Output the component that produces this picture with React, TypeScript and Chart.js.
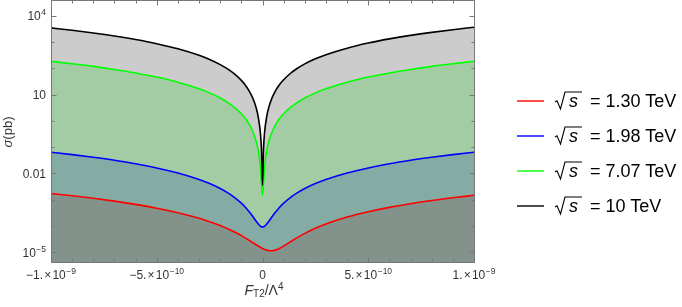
import React, { useEffect, useRef } from "react";
import { Chart, registerables } from "chart.js";

Chart.register(...registerables);

// ---- data ----
const F_T2 = [
  -1.0e-9, -0.9e-9, -0.8e-9, -0.7e-9, -0.6e-9, -0.5e-9, -0.4e-9, -0.3e-9, -0.25e-9, -0.2e-9,
  -0.16e-9, -0.13e-9, -0.1e-9, -0.08e-9, -0.06e-9, -0.045e-9, -0.03e-9, -0.02e-9, -0.01e-9, -0.005e-9,
  0,
  0.005e-9, 0.01e-9, 0.02e-9, 0.03e-9, 0.045e-9, 0.06e-9, 0.08e-9, 0.1e-9, 0.13e-9, 0.16e-9,
  0.2e-9, 0.25e-9, 0.3e-9, 0.4e-9, 0.5e-9, 0.6e-9, 0.7e-9, 0.8e-9, 0.9e-9, 1.0e-9,
];

const SIGMA_130 = [
  1.71e-3, 1.40e-3, 1.12e-3, 8.71e-4, 6.54e-4, 4.69e-4, 3.15e-4, 1.93e-4, 1.43e-4, 1.02e-4,
  7.40e-5, 5.66e-5, 4.20e-5, 3.38e-5, 2.69e-5, 2.25e-5, 1.89e-5, 1.69e-5, 1.51e-5, 1.44e-5,
  1.37e-5,
  1.31e-5, 1.26e-5, 1.18e-5, 1.14e-5, 1.12e-5, 1.18e-5, 1.37e-5, 1.69e-5, 2.39e-5, 3.38e-5,
  5.14e-5, 8.04e-5, 1.17e-4, 2.15e-4, 3.43e-4, 5.04e-4, 6.95e-4, 9.18e-4, 1.17e-3, 1.46e-3,
];

const SIGMA_198 = [
  6.39e-2, 5.18e-2, 4.09e-2, 3.14e-2, 2.31e-2, 1.60e-2, 1.03e-2, 5.83e-3, 4.08e-3, 2.64e-3,
  1.72e-3, 1.17e-3, 7.29e-4, 4.99e-4, 3.21e-4, 2.20e-4, 1.48e-4, 1.17e-4, 9.74e-5, 9.26e-5,
  9.10e-5,
  9.26e-5, 9.74e-5, 1.17e-4, 1.48e-4, 2.20e-4, 3.21e-4, 4.99e-4, 7.29e-4, 1.17e-3, 1.72e-3,
  2.64e-3, 4.08e-3, 5.83e-3, 1.03e-2, 1.60e-2, 2.31e-2, 3.14e-2, 4.09e-2, 5.18e-2, 6.39e-2,
];

const SIGMA_707 = [
  187, 151, 120, 91.6, 67.3, 46.8, 29.9, 16.8, 11.7, 7.48,
  4.79, 3.16, 1.87, 1.20, 0.673, 0.379, 0.168, 0.0748, 0.0187, 0.00468,
  0.00148,
  0.00468, 0.0187, 0.0748, 0.168, 0.379, 0.673, 1.20, 1.87, 3.16, 4.79,
  7.48, 11.7, 16.8, 29.9, 46.8, 67.3, 91.6, 120, 151, 187,
];

const SIGMA_10 = [
  3510, 2843, 2246, 1720, 1264, 878, 562, 316, 219, 140,
  89.9, 59.3, 35.1, 22.5, 12.6, 7.11, 3.16, 1.40, 0.351, 0.0878,
  0.0035,
  0.0929, 0.372, 1.49, 3.34, 7.52, 13.4, 23.8, 37.2, 62.8, 95.1,
  149, 232, 334, 594, 929, 1337, 1820, 2378, 3009, 3715,
];

const SERIES_LABELS = ["1.30 TeV", "1.98 TeV", "7.07 TeV", "10 TeV"];
const SERIES_VALUES = [SIGMA_130, SIGMA_198, SIGMA_707, SIGMA_10];
const SERIES_COLORS = ["#ff0000", "#0000ff", "#00ff00", "#000000"];
const SERIES_FILLS = [
  "rgba(255,0,0,0.2)",
  "rgba(0,0,255,0.2)",
  "rgba(0,255,0,0.2)",
  "rgba(0,0,0,0.2)",
];

const X_MIN = -1e-9;
const X_MAX = 1e-9;
const Y_MIN = 4.16e-6;
const Y_MAX = 3.73e4;

const X_MAJOR = [-1e-9, -5e-10, 0, 5e-10, 1e-9];
const X_MAJOR_LABELS = ["−1.×10^−9", "−5.×10^−10", "0", "5.×10^−10", "1.×10^−9"];
const X_MINOR = [
  -9e-10, -8e-10, -7e-10, -6e-10, -4e-10, -3e-10, -2e-10, -1e-10,
  1e-10, 2e-10, 3e-10, 4e-10, 6e-10, 7e-10, 8e-10, 9e-10,
];
const Y_MAJOR = [1e-5, 1e-2, 10, 1e4];
const Y_MAJOR_LABELS = ["10^−5", "0.01", "10", "10^4"];
const Y_MINOR = [1e-4, 1e-3, 0.1, 1, 100, 1000];

const FONT = "'Liberation Sans', Arial, Helvetica, sans-serif";

function drawTickLabel(
  ctx: CanvasRenderingContext2D,
  text: string,
  x: number,
  baseline: number,
  align: "center" | "right"
) {
  const [base, sup] = text.split("^");
  const baseFont = `12px ${FONT}`;
  const supFont = `8.5px ${FONT}`;
  const segs: { t: string; font: string; dy: number; gap: number }[] = [];
  if (base.includes("×")) {
    const [a, b] = base.split("×");
    segs.push({ t: a, font: baseFont, dy: 0, gap: 0 });
    segs.push({ t: "×", font: baseFont, dy: 0, gap: 1.2 });
    segs.push({ t: b, font: baseFont, dy: 0, gap: 1.2 });
  } else {
    segs.push({ t: base, font: baseFont, dy: 0, gap: 0 });
  }
  if (sup) segs.push({ t: sup, font: supFont, dy: -5, gap: 0.5 });
  let total = 0;
  const widths = segs.map((s) => {
    ctx.font = s.font;
    const w = ctx.measureText(s.t).width;
    total += w + s.gap;
    return w;
  });
  let cx = align === "center" ? x - total / 2 : x - total;
  ctx.textAlign = "left";
  ctx.textBaseline = "alphabetic";
  segs.forEach((s, i) => {
    cx += s.gap;
    ctx.font = s.font;
    ctx.fillText(s.t, cx, baseline + s.dy);
    cx += widths[i];
  });
}

const framePlugin = {
  id: "mmaFrame",
  afterDatasetsDraw(chart: any) {
    const { ctx, chartArea: a, scales } = chart;
    const xs = scales.x;
    const ys = scales.y;
    const L = a.left + 0.5;
    const R = a.right + 0.5;
    const T = a.top - 0.5;
    const B = a.bottom + 0.5;
    ctx.save();
    ctx.strokeStyle = "#777777";
    ctx.lineWidth = 1;
    ctx.beginPath();
    ctx.moveTo(L, T);
    ctx.lineTo(R, T);
    ctx.lineTo(R, B);
    ctx.lineTo(L, B);
    ctx.closePath();
    ctx.stroke();

    ctx.beginPath();
    const xTick = (v: number, len: number) => {
      const px = Math.round(xs.getPixelForValue(v)) + 0.5;
      ctx.moveTo(px, B);
      ctx.lineTo(px, B - len);
      ctx.moveTo(px, T);
      ctx.lineTo(px, T + len);
    };
    const yTick = (v: number, len: number) => {
      const py = Math.round(ys.getPixelForValue(v)) + 0.5;
      ctx.moveTo(L, py);
      ctx.lineTo(L + len, py);
      ctx.moveTo(R, py);
      ctx.lineTo(R - len, py);
    };
    X_MAJOR.forEach((v) => xTick(v, 5));
    X_MINOR.forEach((v) => xTick(v, 3));
    Y_MAJOR.forEach((v) => yTick(v, 5));
    Y_MINOR.forEach((v) => yTick(v, 3));
    ctx.stroke();

    ctx.fillStyle = "#333333";
    X_MAJOR.forEach((v, i) => {
      const px = xs.getPixelForValue(v);
      drawTickLabel(ctx, X_MAJOR_LABELS[i], px, 279, "center");
    });
    Y_MAJOR.forEach((v, i) => {
      const py = ys.getPixelForValue(v);
      drawTickLabel(ctx, Y_MAJOR_LABELS[i], 46, py + 4.5, "right");
    });
    ctx.restore();
  },
};

const LEGEND_Y = [101, 136, 171, 206];

export default function App() {
  const ref = useRef<HTMLCanvasElement>(null);

  useEffect(() => {
    if (!ref.current) return;
    const order = [3, 2, 1, 0];
    const chart = new Chart(ref.current, {
      type: "line",
      data: {
        datasets: SERIES_VALUES.map((vals, i) => ({
          label: SERIES_LABELS[i],
          data: F_T2.map((x, j) => ({ x, y: vals[j] })),
          borderColor: SERIES_COLORS[i],
          backgroundColor: SERIES_FILLS[i],
          borderWidth: 1.6,
          pointRadius: 0,
          fill: "start",
          cubicInterpolationMode: "monotone",
          order: order[i],
        })),
      },
      options: {
        responsive: false,
        animation: false,
        devicePixelRatio: 1,
        layout: { padding: { left: 51, right: 208, top: 1, bottom: 45 } },
        scales: {
          x: { type: "linear", min: X_MIN, max: X_MAX, display: false },
          y: { type: "logarithmic", min: Y_MIN, max: Y_MAX, display: false },
        },
        plugins: {
          legend: { display: false },
          tooltip: { enabled: false },
          filler: { drawTime: "beforeDatasetsDraw" },
        } as any,
        events: [],
      },
      plugins: [framePlugin],
    } as any);
    return () => chart.destroy();
  }, []);

  return (
    <div
      style={{
        position: "absolute",
        left: 0,
        top: 0,
        width: 682,
        height: 307,
        background: "#ffffff",
        fontFamily: FONT,
        color: "#222",
      }}
    >
      <canvas
        ref={ref}
        width={682}
        height={307}
        style={{ position: "absolute", left: 0, top: 0, width: 682, height: 307 }}
      />
      {/* y axis title */}
      <div
        style={{
          position: "absolute",
          left: -12,
          top: 125,
          width: 40,
          height: 14,
          fontSize: 13,
          lineHeight: "14px",
          fontWeight: 400,
          textAlign: "center",
          whiteSpace: "nowrap",
          color: "#333",
          transform: "rotate(-90deg)",
        }}
      >
        <i>σ</i>(pb)
      </div>
      {/* x axis title */}
      <div
        style={{
          position: "absolute",
          left: 224,
          top: 283,
          width: 80,
          fontSize: 14,
          lineHeight: "14px",
          textAlign: "center",
          whiteSpace: "nowrap",
          color: "#333",
        }}
      >
        <i>F</i>
        <span style={{ fontSize: 10, position: "relative", top: 2 }}>T2</span>/Λ
        <span style={{ fontSize: 10, position: "relative", top: -5 }}>4</span>
      </div>
      {/* legend graphics */}
      <svg
        width={682}
        height={307}
        style={{ position: "absolute", left: 0, top: 0, pointerEvents: "none" }}
      >
        {LEGEND_Y.map((y, i) => (
          <g key={i}>
            <line x1={517} x2={544} y1={y} y2={y} stroke={SERIES_COLORS[i]} strokeWidth={1.4} />
            <path
              d={`M555,${y + 1} L557,${y - 0.3} L560.5,${y + 8} L565,${y - 9} L582,${y - 9}`}
              fill="none"
              stroke="#000"
              strokeWidth={1.1}
              strokeLinejoin="miter"
            />
          </g>
        ))}
      </svg>
      {LEGEND_Y.map((y, i) => (
        <React.Fragment key={i}>
          <span
            style={{
              position: "absolute",
              left: 569,
              top: Math.round(y - 9.25),
              fontSize: 18,
              lineHeight: "18px",
              fontStyle: "italic",
              color: "#000",
            }}
          >
            s
          </span>
          <span
            style={{
              position: "absolute",
              left: 590,
              top: Math.round(y - 9.25),
              fontSize: 18,
              lineHeight: "18px",
              whiteSpace: "nowrap",
              color: "#000",
            }}
          >
            = {SERIES_LABELS[i]}
          </span>
        </React.Fragment>
      ))}
    </div>
  );
}
